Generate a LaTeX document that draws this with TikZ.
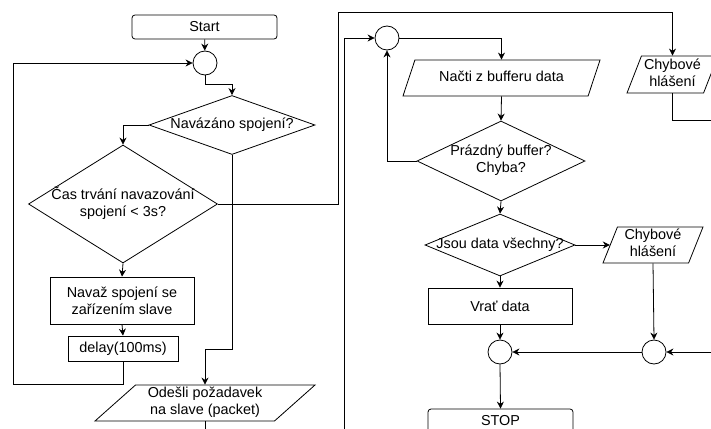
\documentclass[tikz,border=0pt]{standalone}
\usepackage{fontspec}
\setmainfont{Liberation Sans}
\usetikzlibrary{shapes.geometric,arrows.meta}

\tikzset{
  flow/.style={draw, line width=0.8pt, -{Stealth[length=7pt,width=7pt]}},
  proc/.style={draw, rectangle, line width=0.8pt, inner sep=0pt, align=center},
  term/.style={proc, rounded corners=3pt},
  decision/.style={draw, diamond, aspect=1, inner sep=0pt, line width=0.8pt},
  io/.style={draw, trapezium, trapezium stretches body, inner sep=0pt, line width=0.8pt},
  junction/.style={draw, circle, minimum size=24pt, inner sep=0pt, line width=0.8pt},
}
\newcommand{\zw}[1]{\makebox[0pt]{\begin{tabular}{@{}c@{}}#1\end{tabular}}}

\begin{document}
\begin{tikzpicture}[x=1pt,y=-1pt,font=\fontsize{14.4}{17}\selectfont]
        \useasboundingbox (0,0) rectangle (711,428);
        \clip (0,0) rectangle (711,428);

        % left part: connecting
        \node[term, minimum width=145pt, minimum height=24pt] (start) at (204.5,27) {Start};
        \node[junction] (j1) at (205,63) {};
        \node[decision, minimum width=166pt, minimum height=59pt] (conn) at (232,125) {\zw{Navázáno spojení?}};
        \node[decision, minimum width=189pt, minimum height=118pt] (time) at (123,204) {\zw{Čas trvání navazování\\spojení < 3s?}};
        \node[proc, minimum width=144pt, minimum height=47pt] (link) at (122,300.5) {Navaž spojení se\\zařízením slave};
        \node[proc, minimum width=110pt, minimum height=25pt] (delay) at (123,348.5) {delay(100ms)};
        \node[io, trapezium left angle=40, trapezium right angle=140, minimum width=220pt, minimum height=36pt] (send) at (205,403) {\zw{Odešli požadavek\\na slave (packet)}};

        % right part: reading
        \node[junction] (j2) at (387,38) {};
        \node[io, trapezium left angle=55, trapezium right angle=125, minimum width=197pt, minimum height=36pt] (read) at (501.5,78) {\zw{Načti z bufferu data}};
        \node[decision, minimum width=168pt, minimum height=80pt] (empty) at (501,161) {\zw{Prázdný buffer?\\Chyba?}};
        \node[decision, minimum width=150pt, minimum height=62pt] (all) at (500,245) {\zw{Jsou data všechny?}};
        \node[io, trapezium left angle=67, trapezium right angle=113, minimum width=100pt, minimum height=36pt] (err2) at (653,245) {\zw{Chybové\\hlášení}};
        \node[io, trapezium left angle=67, trapezium right angle=113, minimum width=91pt, minimum height=37pt] (err1) at (672.5,74.5) {\zw{Chybové\\hlášení}};
        \node[proc, minimum width=144pt, minimum height=36pt] (ret) at (500,306) {Vrať data};
        \node[junction] (j3) at (500,352) {};
        \node[junction] (j4) at (654,352) {};
        \node[term, minimum width=145pt, minimum height=24pt] (stop) at (500.5,421) {STOP};

        \coordinate (outA) at (205,440);
        \coordinate (inA) at (344,440);
        \coordinate (outB) at (720,120);
        \coordinate (inB) at (720,352);

        \draw[flow] (start) -- (j1);
        \draw[flow] (j1.south) -- ++(0,9) -| (conn.north);
        \draw[flow] (conn.west) -| (time.north);
        \draw[flow] (time.south) -- (link.north);
        \draw[flow] (link.south) -- (delay.north);
        \draw[flow] (delay.south) |- (13,384) |- (j1.west);
        \draw[flow] (time.east) -| (338,12) -| (err1.north);
        \draw[flow] (conn.south) |- (205,349) -- (send.north);
        \draw[line width=0.8pt] (send.south) -- (outA);
        \draw[line width=0.8pt] (err1.south) |- (outB);

        \draw[flow] (inA) |- (j2.west);
        \draw[flow] (j2.east) -| (read.north);
        \draw[flow] (read.south) -- (empty.north);
        \draw[flow] (empty.west) -| (j2.south);
        \draw[flow] (empty.south) -- (all.north);
        \draw[flow] (all.east) -- (err2.left side);
        \draw[flow] (all.south) -- (ret.north);
        \draw[flow] (ret.south) -- (j3.north);
        \draw[flow] (j3.south) -- (stop.north);
        \draw[flow] (err2.south) -- (j4.north);
        \draw[flow] (j4.west) -- (j3.east);
        \draw[flow] (inB) -- (j4.east);

\end{tikzpicture}
\end{document}
